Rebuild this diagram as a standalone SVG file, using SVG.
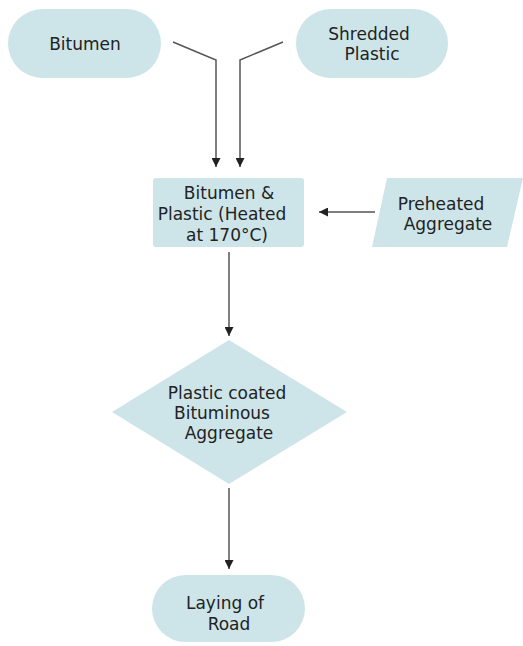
<svg xmlns="http://www.w3.org/2000/svg" width="523" height="646" viewBox="0 0 523 646">
<defs>
<marker id="arr" viewBox="0 0 10 10" refX="10" refY="5" markerWidth="9" markerHeight="9" markerUnits="userSpaceOnUse" orient="auto">
<path d="M0,0 L10,5 L0,10 z" fill="#222"/>
</marker>
</defs>
<style>
.shape{fill:#cde5e9;}
.lbl{font-family:"DejaVu Sans",Verdana,sans-serif;font-size:17px;fill:#222;text-anchor:middle;}
.conn{fill:none;stroke:#555;stroke-width:1.5;marker-end:url(#arr);}
</style>
<rect width="523" height="646" fill="#fff"/>
<g id="n-bitumen">
<rect class="shape" x="8" y="9" width="153" height="69" rx="34.5"/>
<text class="lbl" x="85" y="50">Bitumen</text>
</g>
<g id="n-shredded">
<rect class="shape" x="296" y="9" width="152" height="69" rx="34.5"/>
<text class="lbl" x="369" y="40">Shredded</text>
<text class="lbl" x="372" y="60">Plastic</text>
</g>
<g id="n-mix">
<rect class="shape" x="153" y="178" width="151" height="69" rx="3"/>
<text class="lbl" x="229" y="199">Bitumen &amp;</text>
<text class="lbl" x="222" y="220">Plastic (Heated</text>
<text class="lbl" x="227" y="241">at 170°C)</text>
</g>
<g id="n-preheated">
<polygon class="shape" points="387,178 523,178 507,247 372,247"/>
<text class="lbl" x="441" y="210">Preheated</text>
<text class="lbl" x="448" y="230">Aggregate</text>
</g>
<g id="n-coated">
<polygon class="shape" points="229,340 347,412 229,484 112,412"/>
<text class="lbl" x="227" y="399">Plastic coated</text>
<text class="lbl" x="222" y="419">Bituminous</text>
<text class="lbl" x="229" y="439">Aggregate</text>
</g>
<g id="n-laying">
<rect class="shape" x="152" y="575" width="153" height="67" rx="33.5"/>
<text class="lbl" x="225" y="609">Laying of</text>
<text class="lbl" x="229" y="630">Road</text>
</g>
<g id="connectors">
<polyline class="conn" points="173,42 216,60 216,167"/>
<polyline class="conn" points="283,42 240,60 240,167"/>
<line class="conn" x1="375" y1="212" x2="319" y2="212"/>
<line class="conn" x1="229" y1="252" x2="229" y2="336"/>
<line class="conn" x1="229" y1="488" x2="229" y2="569"/>
</g>
</svg>
